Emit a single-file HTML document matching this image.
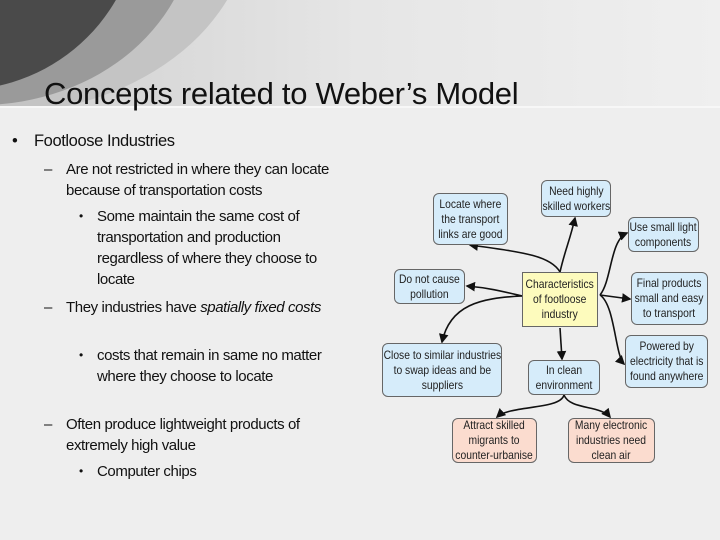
<!DOCTYPE html>
<html><head><meta charset="utf-8"><style>
body{margin:0;width:720px;height:540px;overflow:hidden;background:#eeeeee;font-family:"Liberation Sans",sans-serif;position:relative}
.t{position:absolute;color:#111;font-size:15px;line-height:21px;letter-spacing:-0.4px}
.b{position:absolute;border:1px solid #666;border-radius:6px;background:#d6ecfa;font-size:12px;line-height:15px;text-align:center;display:flex;align-items:center;justify-content:center;color:#222;box-sizing:border-box}
.b span{display:inline-block;white-space:nowrap;transform:scaleX(0.86)}
.p{background:#fbdccf}
</style></head><body>
<svg width="720" height="108" style="position:absolute;left:0;top:0">
<defs><linearGradient id="g" x1="0" x2="1"><stop offset="0" stop-color="#cfcfcf"/><stop offset="0.5" stop-color="#e6e6e6"/><stop offset="1" stop-color="#efefef"/></linearGradient></defs>
<rect width="720" height="108" fill="url(#g)"/>
<ellipse cx="-10" cy="-80" rx="260" ry="195" fill="#c4c4c4"/>
<ellipse cx="-20" cy="-80" rx="215" ry="185" fill="#9a9a9a"/>
<ellipse cx="-40" cy="-90" rx="180" ry="180" fill="#4a4a4a"/>
</svg>
<div style="position:absolute;left:0;top:106px;width:720px;height:2px;background:#f7f7f7"></div>
<div class="t" style="left:44px;top:74px;font-size:31px;line-height:40px;letter-spacing:-0.3px;color:#111;transform:scaleX(1.0);white-space:nowrap">Concepts related to Weber’s Model</div>
<div class="t" style="left:12px;top:131px;font-size:16.5px">•</div>
<div class="t" style="left:34px;top:131px;font-size:16.5px">Footloose Industries</div>
<div class="t" style="left:44px;top:159px">–</div>
<div class="t" style="left:66px;top:159px;width:290px">Are not restricted in where they can locate because of transportation costs</div>
<div class="t" style="left:79px;top:206px;font-size:12px">•</div>
<div class="t" style="left:97px;top:206px;width:248px">Some maintain the same cost of transportation and production regardless of where they choose to locate</div>
<div class="t" style="left:44px;top:297px">–</div>
<div class="t" style="left:66px;top:297px;width:270px">They industries have <i>spatially fixed costs</i></div>
<div class="t" style="left:79px;top:345px;font-size:12px">•</div>
<div class="t" style="left:97px;top:345px;width:225px">costs that remain in same no matter where they choose to locate</div>
<div class="t" style="left:44px;top:414px">–</div>
<div class="t" style="left:66px;top:414px;width:275px">Often produce lightweight products of extremely high value</div>
<div class="t" style="left:79px;top:461px;font-size:12px">•</div>
<div class="t" style="left:97px;top:461px">Computer chips</div>

<svg width="720" height="540" style="position:absolute;left:0;top:0">
<defs><marker id="a" markerWidth="6" markerHeight="6" refX="5" refY="3" orient="auto"><path d="M0,0L6,3L0,6z" fill="#111"/></marker></defs>
<g fill="none" stroke="#111" stroke-width="1.6" marker-end="url(#a)">
<path d="M560,272 C550,255 520,252 470,245"/>
<path d="M560,272 C565,250 570,240 575,218"/>
<path d="M600,295 C612,280 610,240 627,233"/>
<path d="M600,295 L630,299"/>
<path d="M600,295 C615,305 615,355 624,364"/>
<path d="M522,296 C505,292 490,288 467,286"/>
<path d="M522,296 C480,298 450,305 442,342"/>
<path d="M560,328 L562,359"/>
<path d="M564,395 C560,410 510,405 497,417"/>
<path d="M564,395 C570,410 600,405 610,417"/>
</g>
</svg>
<div class="b" style="left:433px;top:193px;width:75px;height:52px"><span>Locate where<br>the transport<br>links are good</span></div>
<div class="b" style="left:541px;top:180px;width:70px;height:37px"><span>Need highly<br>skilled workers</span></div>
<div class="b" style="left:628px;top:217px;width:71px;height:35px"><span>Use small light<br>components</span></div>
<div class="b" style="left:394px;top:269px;width:71px;height:35px"><span>Do not cause<br>pollution</span></div>
<div class="b" style="left:522px;top:272px;width:76px;height:55px;background:#fdfbbd;border-radius:0"><span>Characteristics<br>of footloose<br>industry</span></div>
<div class="b" style="left:631px;top:272px;width:77px;height:53px"><span>Final products<br>small and easy<br>to transport</span></div>
<div class="b" style="left:625px;top:335px;width:83px;height:53px"><span>Powered by<br>electricity that is<br>found anywhere</span></div>
<div class="b" style="left:382px;top:343px;width:120px;height:54px"><span>Close to similar industries<br>to swap ideas and be<br>suppliers</span></div>
<div class="b" style="left:528px;top:360px;width:72px;height:35px"><span>In clean<br>environment</span></div>
<div class="b p" style="left:452px;top:418px;width:85px;height:45px"><span>Attract skilled<br>migrants to<br>counter-urbanise</span></div>
<div class="b p" style="left:568px;top:418px;width:87px;height:45px"><span>Many electronic<br>industries need<br>clean air</span></div>
</body></html>
